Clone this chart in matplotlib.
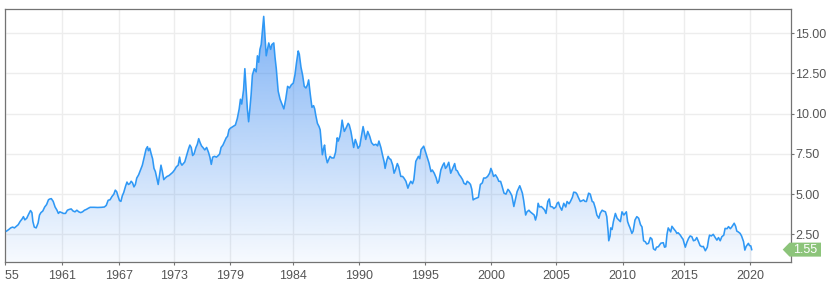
import numpy as np
import matplotlib
matplotlib.use("Agg")
import matplotlib.pyplot as plt
from matplotlib.patches import PathPatch, Polygon
from matplotlib.transforms import Bbox, TransformedBbox, blended_transform_factory

plt.rcParams['font.family'] = ['Liberation Sans', 'DejaVu Sans']

# ---------------- data (decimal year, yield %) ----------------
dates = [
    1955.16, 1955.4, 1955.6, 1955.8, 1956.0, 1956.2, 1956.4, 1956.6, 1956.8, 1956.95,
    1957.1, 1957.3, 1957.5, 1957.7, 1957.85, 1957.95, 1958.1, 1958.3, 1958.5, 1958.65,
    1958.8, 1959.0, 1959.2, 1959.4, 1959.6, 1959.75, 1959.9, 1960.1, 1960.3, 1960.5,
    1960.65, 1960.8, 1961.0, 1961.2, 1961.4, 1961.6, 1961.8, 1962.0, 1962.2, 1962.4,
    1962.6, 1962.8, 1963.0, 1963.2, 1963.4, 1963.6, 1963.8, 1964.0, 1964.4, 1964.8,
    1965.2, 1965.5, 1965.7, 1965.9, 1966.1, 1966.3, 1966.5, 1966.65, 1966.8, 1966.95,
    1967.1, 1967.25, 1967.4, 1967.55, 1967.75, 1967.9, 1968.05, 1968.2, 1968.35, 1968.5,
    1968.65, 1968.8, 1968.95, 1969.15, 1969.35, 1969.55, 1969.75, 1969.95, 1970.1, 1970.2,
    1970.35, 1970.5, 1970.65, 1970.8, 1970.95, 1971.1, 1971.25, 1971.4, 1971.55, 1971.7,
    1971.85, 1972.0, 1972.2, 1972.4, 1972.6, 1972.8, 1973.0, 1973.2, 1973.4, 1973.55,
    1973.65, 1973.8, 1973.95, 1974.1, 1974.3, 1974.5, 1974.65, 1974.8, 1974.95, 1975.1,
    1975.3, 1975.45, 1975.6, 1975.75, 1975.9, 1976.05, 1976.25, 1976.45, 1976.65, 1976.8,
    1976.95, 1977.1, 1977.3, 1977.5, 1977.7, 1977.85, 1978.0, 1978.2, 1978.4, 1978.55,
    1978.7, 1978.85, 1979.0, 1979.2, 1979.4, 1979.55, 1979.7, 1979.8, 1979.9, 1980.05,
    1980.15, 1980.25, 1980.35, 1980.45, 1980.55, 1980.65, 1980.75, 1980.9, 1981.05, 1981.15,
    1981.25, 1981.35, 1981.45, 1981.55, 1981.65, 1981.75, 1981.85, 1981.95, 1982.05, 1982.2,
    1982.3, 1982.45, 1982.55, 1982.65, 1982.8, 1982.95, 1983.1, 1983.25, 1983.4, 1983.55,
    1983.7, 1983.85, 1984.0, 1984.15, 1984.3, 1984.45, 1984.55, 1984.7, 1984.85, 1985.0,
    1985.15, 1985.3, 1985.4, 1985.55, 1985.7, 1985.85, 1985.95, 1986.05, 1986.2, 1986.35,
    1986.45, 1986.55, 1986.65, 1986.75, 1986.85, 1986.95, 1987.1, 1987.25, 1987.35, 1987.5,
    1987.7, 1987.85, 1988.0, 1988.1, 1988.25, 1988.35, 1988.45, 1988.55, 1988.65, 1988.8,
    1989.0, 1989.1, 1989.25, 1989.4, 1989.5, 1989.65, 1989.8, 1989.9, 1990.05, 1990.15,
    1990.3, 1990.4, 1990.5, 1990.65, 1990.8, 1990.94, 1991.1, 1991.27, 1991.4, 1991.5,
    1991.65, 1991.77, 1991.9, 1991.97, 1992.1, 1992.2, 1992.3, 1992.4, 1992.55, 1992.65,
    1992.75, 1992.9, 1993.0, 1993.16, 1993.3, 1993.4, 1993.55, 1993.7, 1993.8, 1993.92,
    1994.05, 1994.15, 1994.3, 1994.5, 1994.6, 1994.7, 1994.9, 1995.05, 1995.2, 1995.3,
    1995.45, 1995.55, 1995.7, 1995.85, 1995.95, 1996.05, 1996.2, 1996.35, 1996.45, 1996.55,
    1996.65, 1996.8, 1996.95, 1997.1, 1997.25, 1997.35, 1997.45, 1997.6, 1997.7, 1997.85,
    1997.95, 1998.1, 1998.2, 1998.35, 1998.45, 1998.55, 1998.65, 1998.75, 1998.9, 1999.05,
    1999.2, 1999.35, 1999.45, 1999.6, 1999.75, 1999.9, 2000.0, 2000.1, 2000.2, 2000.35,
    2000.5, 2000.6, 2000.74, 2000.85, 2001.0, 2001.15, 2001.3, 2001.4, 2001.5, 2001.6,
    2001.75, 2001.85, 2002.0, 2002.2, 2002.3, 2002.4, 2002.5, 2002.65, 2002.75, 2002.9,
    2003.0, 2003.15, 2003.3, 2003.4, 2003.5, 2003.6, 2003.7, 2003.84, 2004.0, 2004.1,
    2004.2, 2004.34, 2004.45, 2004.54, 2004.7, 2004.8, 2004.95, 2005.05, 2005.15, 2005.25,
    2005.4, 2005.55, 2005.7, 2005.8, 2005.95, 2006.05, 2006.2, 2006.3, 2006.45, 2006.55,
    2006.65, 2006.8, 2006.95, 2007.05, 2007.15, 2007.26, 2007.43, 2007.55, 2007.7, 2007.8,
    2007.94, 2008.05, 2008.2, 2008.3, 2008.45, 2008.55, 2008.7, 2008.8, 2008.9, 2008.95,
    2009.05, 2009.1, 2009.2, 2009.3, 2009.45, 2009.58, 2009.7, 2009.83, 2009.95, 2010.1,
    2010.2, 2010.3, 2010.4, 2010.5, 2010.6, 2010.75, 2010.85, 2011.0, 2011.15, 2011.3,
    2011.45, 2011.57, 2011.7, 2011.84, 2011.95, 2012.1, 2012.25, 2012.38, 2012.5, 2012.65,
    2012.75, 2012.9, 2013.1, 2013.3, 2013.4, 2013.5, 2013.6, 2013.7, 2013.8, 2013.9,
    2014.0, 2014.19, 2014.3, 2014.4, 2014.5, 2014.68, 2014.8, 2014.9, 2015.08, 2015.2,
    2015.33, 2015.45, 2015.58, 2015.7, 2015.83, 2015.95, 2016.08, 2016.2, 2016.34, 2016.45,
    2016.6, 2016.75, 2016.85, 2016.92, 2017.05, 2017.2, 2017.35, 2017.48, 2017.6, 2017.73,
    2017.85, 2018.0, 2018.1, 2018.25, 2018.36, 2018.5, 2018.6, 2018.79, 2018.9, 2018.99,
    2019.1, 2019.24, 2019.35, 2019.5, 2019.6, 2019.7, 2019.87, 2019.95, 2020.05, 2020.12,
]
yields = [
    2.70, 2.80, 2.90, 2.95, 2.90, 3.00, 3.10, 3.30, 3.45, 3.60,
    3.40, 3.50, 3.75, 3.98, 3.85, 3.30, 2.95, 2.90, 3.20, 3.70,
    3.85, 3.95, 4.20, 4.35, 4.65, 4.70, 4.72, 4.55, 4.20, 4.00,
    3.80, 3.90, 3.85, 3.80, 3.80, 4.00, 4.05, 4.08, 3.95, 3.90,
    4.00, 3.90, 3.85, 3.90, 4.00, 4.05, 4.12, 4.18, 4.18, 4.17,
    4.18, 4.20, 4.30, 4.62, 4.65, 4.85, 5.00, 5.25, 5.15, 4.85,
    4.60, 4.55, 4.90, 5.10, 5.50, 5.75, 5.60, 5.65, 5.80, 5.70,
    5.45, 5.60, 6.00, 6.20, 6.50, 6.80, 7.30, 7.80, 7.95, 7.70,
    7.85, 7.50, 7.20, 6.60, 6.40, 6.00, 5.60, 6.20, 6.80, 6.40,
    5.90, 6.00, 6.10, 6.15, 6.25, 6.35, 6.50, 6.70, 6.80, 7.30,
    6.95, 6.80, 6.90, 7.00, 7.40, 7.80, 8.05, 7.90, 7.40, 7.50,
    7.90, 8.10, 8.45, 8.20, 8.00, 7.90, 7.75, 7.90, 7.60, 7.30,
    6.85, 7.30, 7.35, 7.30, 7.40, 7.50, 7.90, 8.05, 8.30, 8.50,
    8.60, 9.00, 9.10, 9.20, 9.30, 9.70, 10.30, 10.90, 10.60, 11.50,
    12.80, 11.50, 10.30, 9.50, 10.30, 11.20, 12.40, 12.80, 12.60, 13.60,
    13.20, 14.00, 14.30, 15.20, 16.05, 14.80, 13.60, 14.00, 14.40, 14.00,
    14.30, 14.40, 13.50, 12.80, 11.40, 10.90, 10.60, 10.30, 10.90, 11.70,
    11.60, 11.80, 11.90, 12.40, 13.20, 13.90, 13.70, 12.90, 12.40, 11.70,
    11.60, 11.80, 12.10, 11.20, 10.40, 10.50, 10.30, 9.90, 9.40, 9.20,
    9.00, 8.20, 7.45, 7.80, 8.05, 7.40, 6.95, 7.20, 7.35, 7.25,
    7.25, 7.60, 8.50, 8.30, 8.60, 9.00, 9.60, 9.20, 8.90, 9.10,
    9.40, 9.30, 8.90, 8.30, 7.90, 8.40, 8.10, 7.85, 8.00, 8.50,
    9.20, 8.80, 8.40, 8.90, 8.60, 8.20, 8.05, 8.10, 8.00, 8.30,
    7.90, 7.45, 7.00, 6.60, 7.10, 7.35, 7.20, 7.16, 6.80, 6.30,
    6.50, 6.90, 6.70, 6.10, 6.10, 6.00, 5.80, 5.37, 5.60, 5.80,
    5.65, 5.90, 7.04, 7.35, 7.20, 7.77, 7.98, 7.60, 7.20, 6.94,
    6.40, 6.50, 6.30, 6.00, 5.68, 5.80, 6.50, 6.80, 6.94, 6.60,
    6.70, 6.98, 6.30, 6.60, 6.90, 6.50, 6.45, 6.20, 6.10, 5.90,
    5.68, 5.60, 5.80, 5.70, 5.60, 5.30, 4.64, 4.70, 4.75, 4.80,
    5.60, 5.70, 6.00, 6.00, 6.10, 6.30, 6.60, 6.40, 6.10, 6.20,
    6.00, 5.80, 5.79, 5.50, 5.06, 5.00, 5.30, 5.20, 5.06, 4.90,
    4.23, 4.60, 5.16, 5.52, 5.30, 5.06, 4.60, 3.70, 3.90, 4.00,
    3.90, 3.80, 3.70, 3.39, 3.70, 4.43, 4.20, 4.23, 4.10, 4.00,
    3.80, 4.54, 4.70, 4.23, 4.20, 4.10, 4.20, 4.43, 4.50, 4.23,
    4.00, 4.43, 4.20, 4.54, 4.40, 4.54, 4.80, 5.12, 5.10, 5.00,
    4.80, 4.54, 4.60, 4.64, 4.55, 4.54, 5.06, 5.00, 4.54, 4.50,
    4.12, 3.70, 3.50, 3.80, 4.00, 3.95, 3.90, 3.60, 2.70, 2.10,
    2.40, 2.90, 2.80, 3.29, 3.80, 3.50, 3.40, 3.29, 3.90, 3.70,
    3.80, 3.90, 3.30, 3.08, 2.90, 2.56, 2.70, 3.39, 3.60, 3.50,
    3.10, 2.96, 2.10, 2.04, 1.90, 1.94, 2.30, 2.20, 1.60, 1.52,
    1.70, 1.73, 1.95, 1.98, 1.70, 1.73, 2.50, 2.90, 2.77, 2.65,
    3.00, 2.80, 2.70, 2.56, 2.60, 2.45, 2.30, 2.20, 1.70, 2.00,
    2.25, 2.40, 2.35, 2.10, 2.14, 2.30, 2.05, 1.80, 1.73, 1.75,
    1.48, 1.70, 2.20, 2.45, 2.40, 2.50, 2.30, 2.14, 2.30, 2.10,
    2.35, 2.45, 2.87, 2.85, 2.98, 2.85, 2.95, 3.19, 3.00, 2.70,
    2.65, 2.56, 2.40, 2.05, 1.52, 1.75, 1.94, 1.80, 1.78, 1.55,
]
last_value = 1.55

tick_years = [1955, 1961, 1967, 1973, 1979, 1984, 1990, 1995, 2000, 2005, 2010, 2015, 2020]
tick_labels = [str(y) for y in tick_years]
y_ticks = [2.5, 5.0, 7.5, 10.0, 12.5, 15.0]

# ---------------- ordinal-like time axis (piecewise linear) ----------------
knot_years = np.array([1900, 1955, 1961, 1967, 1973, 1979, 1984, 1990, 1995,
                       2000, 2005, 2010, 2015, 2020, 2100], dtype=float)
knot_pos = np.array([3.5 - 55 * 9.47, 3.5, 60.3, 117.3, 173.3, 229.3, 292.3, 358.3, 424.3,
                     490.3, 556.0, 622.3, 684.0, 750.0, 750.0 + 80 * 13.2])


def fwd(x):
    return np.interp(x, knot_years, knot_pos)


def inv(p):
    return np.interp(p, knot_pos, knot_years)


W, H = 829, 287
fig = plt.figure(figsize=(W / 100, H / 100), dpi=100)
ax = fig.add_axes([5 / W, 1 - 262 / H, 785.7 / W, 253 / H])
ax.set_xscale('function', functions=(fwd, inv))
ax.set_xlim(1955.16, 2023.08)
ax.set_ylim(0.78, 16.51)

line_color = '#2f98f5'
grid_color = '#ededed'
text_color = '#555555'
spine_color = '#737373'

# grid
ax.set_axisbelow(True)
ax.grid(True, color=grid_color, linewidth=1.0, zorder=0)

# gradient fill
fb = ax.fill_between(dates, yields, 0, facecolor='none', edgecolor='none')
clip = PathPatch(fb.get_paths()[0], transform=ax.transData, facecolor='none', edgecolor='none')
ax.add_patch(clip)
n = 256
grad = np.zeros((n, 1, 4))
base = np.array([51, 133, 240]) / 255.0
grad[:, 0, :3] = base
grad[:, 0, 3] = np.linspace(0.04, 0.64, n)
im = ax.imshow(grad, extent=[0, 1, 0, 1], transform=ax.transAxes, origin='lower',
               aspect='auto', interpolation='bilinear', zorder=1)
im.set_clip_path(clip)

ax.plot(dates, yields, color=line_color, linewidth=1.15, zorder=3)

# axes styling
for s in ax.spines.values():
    s.set_color(spine_color)
    s.set_linewidth(0.9)
ax.set_xticks(tick_years)
ax.set_xticklabels(tick_labels)
ax.set_yticks(y_ticks)
ax.set_yticklabels([f'{v:.2f}' for v in y_ticks])
ax.yaxis.tick_right()
ax.tick_params(axis='x', direction='out', length=2.5, width=0.8, color=spine_color,
               labelsize=9, labelcolor=text_color, pad=3.5)
ax.tick_params(axis='y', direction='out', length=2.2, width=0.8, color=spine_color,
               labelsize=9, labelcolor=text_color, pad=1.2, left=False, right=True)

# clip the first x tick label at the plot's left edge (as in the reference)
clip_box = TransformedBbox(Bbox([[5 / W, 0], [1, 1]]), fig.transFigure)
first = ax.xaxis.get_major_ticks()[0]
first.label1.set_clip_on(True)
first.label1.set_clip_box(clip_box)

# last value badge
tr = blended_transform_factory(ax.transAxes, ax.transData)
half_h = 7 / (253 / (16.51 - 0.78))
tip_x = (782.7 - 5) / 785.7
bl_x = (789.5 - 5) / 785.7
br_x = (821 - 5) / 785.7
badge = Polygon([(tip_x, last_value), (bl_x, last_value + half_h), (br_x, last_value + half_h),
                 (br_x, last_value - half_h), (bl_x, last_value - half_h)],
                closed=True, transform=tr, facecolor='#8cc47a', edgecolor='none',
                clip_on=False, zorder=5)
ax.add_patch(badge)
ax.text((bl_x + br_x) / 2, last_value, f'{last_value:.2f}', transform=tr, ha='center',
        va='center', color='white', fontsize=9, zorder=6, clip_on=False)

fig.savefig('out.png', dpi=100)
